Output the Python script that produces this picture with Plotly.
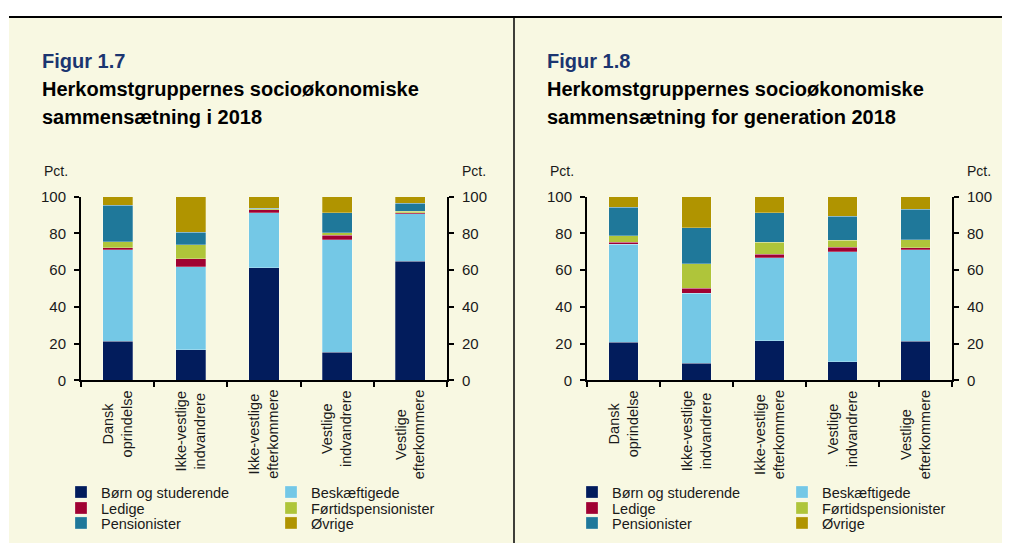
import plotly.graph_objects as go

# Kategorier (herkomstgrupper)
categories = ["Dansk oprindelse", "Ikke-vestlige indvandrere", "Ikke-vestlige efterkommere",
              "Vestlige indvandrere", "Vestlige efterkommere"]
category_labels = ["Dansk<br>oprindelse", "Ikke-vestlige<br>indvandrere", "Ikke-vestlige<br>efterkommere",
                   "Vestlige<br>indvandrere", "Vestlige<br>efterkommere"]

series_names = ["Børn og studerende", "Beskæftigede", "Ledige",
                "Førtidspensionister", "Pensionister", "Øvrige"]
series_colors = ["#021C5C", "#74C8E6", "#A00232", "#AFC53A", "#1F789A", "#B09400"]

# Figur 1.7 - sammensætning i 2018 (pct.)
born_17 = [21.4, 16.7, 61.4, 15.2, 64.9]
besk_17 = [49.6, 45.1, 29.9, 61.2, 25.7]
ledige_17 = [1.1, 4.5, 1.5, 2.6, 0.7]
fortid_17 = [3.3, 7.6, 0.6, 1.4, 0.7]
pens_17 = [19.9, 6.7, 0.2, 10.9, 4.4]
ovrige_17 = [4.7, 19.4, 6.4, 8.7, 3.6]

# Figur 1.8 - sammensætning for generation 2018 (pct.)
born_18 = [20.8, 9.4, 21.6, 10.0, 21.4]
besk_18 = [53.3, 37.9, 45.1, 60.1, 49.6]
ledige_18 = [1.1, 2.9, 2.0, 2.4, 1.1]
fortid_18 = [3.4, 13.4, 6.5, 3.8, 4.5]
pens_18 = [15.6, 19.4, 15.9, 13.0, 16.5]
ovrige_18 = [5.8, 17.0, 8.9, 10.7, 6.9]

y_ticks = [0, 20, 40, 60, 80, 100]

# figurstørrelse; siden lægger selv en margen til (8 px vandret, 16 px lodret)
W, H = 994, 543
OX, OY = 8, 16
FONT = "Liberation Sans, Arial, sans-serif"
BEIGE = "#F8F8E2"


def px_x(v):
    # pixel i billedet -> paper-koordinat
    return (v - OX) / W


def px_y(v):
    return 1 - (v - OY) / (H - OY)


panels = [
    dict(xa="x", ya="y", ya_r="y3", values=[born_17, besk_17, ledige_17, fortid_17, pens_17, ovrige_17],
         legends=["legend", "legend2", "legend3"], title_x=40,
         fig_title="Figur 1.7", title="Herkomstgruppernes socioøkonomiske", title2="sammensætning i 2018",
         ax_l=81, ax_r=447, leg_x=98),
    dict(xa="x2", ya="y2", ya_r="y4", values=[born_18, besk_18, ledige_18, fortid_18, pens_18, ovrige_18],
         legends=["legend4", "legend5", "legend6"], title_x=545,
         fig_title="Figur 1.8", title="Herkomstgruppernes socioøkonomiske",
         title2="sammensætning for generation 2018",
         ax_l=587, ax_r=952, leg_x=609),
]

fig = go.Figure()

for p in panels:
    for i, name in enumerate(series_names):
        fig.add_trace(go.Bar(
            x=categories, y=p["values"][i], name=name,
            marker=dict(color=series_colors[i], line=dict(width=0.6, color="rgba(255,255,255,0.45)")),
            xaxis=p["xa"], yaxis=p["ya"], legend=p["legends"][i // 2],
            hovertemplate="%{x}: %{y:.1f} pct.<extra>" + name + "</extra>",
        ))
    # usynligt spor, så højre akse bliver tegnet
    fig.add_trace(go.Scatter(x=categories, y=p["values"][0], mode="markers", marker=dict(opacity=0),
                             xaxis=p["xa"], yaxis=p["ya_r"], showlegend=False, hoverinfo="skip"))

annotations = []
shapes = [
    dict(type="rect", xref="paper", yref="paper", x0=px_x(9), x1=1, y0=0, y1=1,
         fillcolor=BEIGE, line=dict(width=0), layer="below"),
    dict(type="line", xref="paper", yref="paper", x0=px_x(9), x1=1, y0=1, y1=1,
         line=dict(color="black", width=2)),
    dict(type="line", xref="paper", yref="paper", x0=px_x(514), x1=px_x(514), y0=0, y1=1,
         line=dict(color="black", width=1.5)),
]

axis_common = dict(showline=True, linecolor="black", linewidth=2, ticks="outside", ticklen=5,
                   tickwidth=1.5, tickcolor="black", showgrid=False, zeroline=False)
y_common = dict(axis_common, range=[0, 100], tickvals=y_ticks, fixedrange=True, ticklabelstandoff=5,
                tickfont=dict(family=FONT, size=15, color="#1a1a1a"),
                domain=[px_y(380), px_y(196)])

layout_axes = {}
for n, p in enumerate(panels):
    xa_key = "xaxis" if p["xa"] == "x" else "xaxis2"
    ya_key = "yaxis" if p["ya"] == "y" else "yaxis2"
    ya_right = "yaxis3" if n == 0 else "yaxis4"
    layout_axes[xa_key] = dict(axis_common, type="category", tickson="boundaries",
                               domain=[px_x(p["ax_l"]), px_x(p["ax_r"])], anchor=p["ya"],
                               showticklabels=False, range=[-0.5, 4.5], fixedrange=True)
    layout_axes[ya_key] = dict(y_common, anchor=p["xa"], side="left")
    layout_axes[ya_right] = dict(y_common, anchor=p["xa"], side="right", overlaying=p["ya"])

    # titler
    annotations.append(dict(text="<b>" + p["fig_title"] + "</b>", xref="paper", yref="paper",
                            x=px_x(p["title_x"]), y=px_y(60), xanchor="left", yanchor="middle",
                            showarrow=False, font=dict(family=FONT, size=20, color="#1B3570")))
    annotations.append(dict(text="<b>" + p["title"] + "</b>", xref="paper", yref="paper",
                            x=px_x(p["title_x"]), y=px_y(88), xanchor="left", yanchor="middle",
                            showarrow=False, font=dict(family=FONT, size=20, color="black")))
    annotations.append(dict(text="<b>" + p["title2"] + "</b>", xref="paper", yref="paper",
                            x=px_x(p["title_x"]), y=px_y(116), xanchor="left", yanchor="middle",
                            showarrow=False, font=dict(family=FONT, size=20, color="black")))

    # Pct.
    annotations.append(dict(text="Pct.", xref="paper", yref="paper", x=px_x(p["ax_l"] - 39),
                            y=px_y(170), xanchor="left", yanchor="middle", showarrow=False,
                            font=dict(family=FONT, size=14, color="#1a1a1a")))
    annotations.append(dict(text="Pct.", xref="paper", yref="paper", x=px_x(p["ax_r"] + 13),
                            y=px_y(170), xanchor="left", yanchor="middle", showarrow=False,
                            font=dict(family=FONT, size=14, color="#1a1a1a")))

    # kategorietiketter
    for cat, lab in zip(categories, category_labels):
        annotations.append(dict(text=lab, x=cat, y=0, xref=p["xa"], yref=p["ya"],
                                xanchor="center", yanchor="top", yshift=-8, textangle=-90,
                                align="center", showarrow=False,
                                font=dict(family=FONT, size=14.5, color="#1a1a1a")))

legends = {}
row_y = [492, 508, 523]
for p in panels:
    for r, leg in enumerate(p["legends"]):
        legends[leg] = dict(orientation="h", x=px_x(p["leg_x"] - 37), xanchor="left",
                            y=px_y(row_y[r]), yanchor="middle", entrywidth=165,
                            entrywidthmode="pixels", bgcolor="rgba(0,0,0,0)", borderwidth=0,
                            traceorder="normal",
                            font=dict(family=FONT, size=14.5, color="#1a1a1a"), itemclick=False,
                            itemdoubleclick=False)

fig.update_layout(
    width=W, height=H,
    margin=dict(l=0, r=0, t=0, b=0),
    paper_bgcolor="white",
    plot_bgcolor="rgba(0,0,0,0)",
    barmode="stack",
    bargap=0.59,
    showlegend=True,
    annotations=annotations,
    shapes=shapes,
    font=dict(family=FONT, size=14, color="#1a1a1a"),
    **layout_axes,
    **legends,
)

fig.write_html("out.html")
